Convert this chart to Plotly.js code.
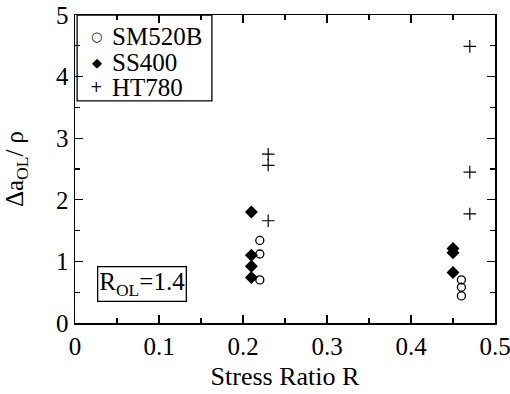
<!DOCTYPE html>
<html><head><meta charset="utf-8">
<script src="https://cdn.plot.ly/plotly-3.0.1.min.js"></script>
<style>html,body{margin:0;padding:0;background:#fff}#c{width:510px;height:394px}</style>
</head><body><div id="c"></div>
<script>
const seriesNames = ["SM520B", "SS400", "HT780"];
const legendGlyphs = ["○", "◆", "+"];
const sm520bR = [0.22, 0.22, 0.22, 0.46, 0.46, 0.46];
const sm520bY = [1.34, 1.12, 0.70, 0.70, 0.58, 0.44];
const ss400R = [0.21, 0.21, 0.21, 0.21, 0.45, 0.45, 0.45];
const ss400Y = [1.80, 1.10, 0.92, 0.74, 1.21, 1.14, 0.82];
const ht780R = [0.23, 0.23, 0.23, 0.47, 0.47, 0.47];
const ht780Y = [2.74, 2.56, 1.66, 4.49, 2.45, 1.77];

const font = "Liberation Serif";
const traces = [
  {x: sm520bR, y: sm520bY, name: seriesNames[0], mode: "markers", type: "scatter",
   marker: {symbol: "circle-open", size: 8, color: "#000", line: {width: 1.3, color: "#000"}}},
  {x: ss400R, y: ss400Y, name: seriesNames[1], mode: "markers", type: "scatter",
   marker: {symbol: "diamond", size: 10, color: "#000"}},
  {x: ht780R, y: ht780Y, name: seriesNames[2], mode: "markers", type: "scatter",
   marker: {symbol: "cross-thin-open", size: 9, color: "#000", line: {width: 1.2, color: "#000"}}}
];
const axisCommon = {
  showgrid: false, zeroline: false, showline: true, linecolor: "#000", linewidth: 1.5,
  mirror: "ticks", ticks: "inside", ticklen: 8, tickwidth: 1.3, tickcolor: "#000",
  ticklabeloverflow: "allow",
  tickfont: {family: font, size: 25, color: "#000"}
};
// legend drawn as a boxed block of real text (tight line spacing like the reference)
const legendY = [0.929, 0.847, 0.766];
const glyphSize = [13, 13, 15];
const annotations = [];
seriesNames.forEach((n, i) => {
  annotations.push({xref: "paper", yref: "paper", x: 0.052, y: legendY[i], xanchor: "center", yanchor: "middle",
    text: legendGlyphs[i], showarrow: false, font: {family: "DejaVu Sans", size: glyphSize[i], color: "#000"}});
  annotations.push({xref: "paper", yref: "paper", x: 0.083, y: legendY[i], xanchor: "left", yanchor: "middle",
    text: n, showarrow: false, font: {family: font, size: 25, color: "#000"}});
});
annotations.push({xref: "paper", yref: "paper", x: 0.160, y: 0.128, xanchor: "center", yanchor: "middle",
    text: "R<sub>OL</sub>=1.4", showarrow: false, bordercolor: "#000", borderwidth: 1.3, borderpad: 1,
    bgcolor: "#fff", font: {family: font, size: 25, color: "#000"}});
const layout = {
  width: 510, height: 394,
  margin: {l: 75, r: 15, t: 15, b: 71},
  paper_bgcolor: "#fff", plot_bgcolor: "#fff",
  font: {family: font, color: "#000"},
  showlegend: false,
  xaxis: Object.assign({}, axisCommon, {range: [0, 0.5], dtick: 0.1, tick0: 0,
    minor: {dtick: 0.05, ticklen: 5, tickwidth: 1.2, tickcolor: "#000", ticks: "inside"},
    title: {text: "Stress Ratio R", font: {family: font, size: 26, color: "#000"}, standoff: 8}}),
  yaxis: Object.assign({}, axisCommon, {range: [0, 5], dtick: 1, tick0: 0,
    minor: {dtick: 0.5, ticklen: 5, tickwidth: 1.2, tickcolor: "#000", ticks: "inside"},
    title: {text: "Δa<sub>OL</sub>/ ρ", font: {family: font, size: 25, color: "#000"}, standoff: 25}}),
  shapes: [{type: "rect", xref: "paper", yref: "paper", x0: 0.005, x1: 0.326, y0: 0.721, y1: 1,
    line: {color: "#000", width: 1.3}, fillcolor: "rgba(0,0,0,0)", layer: "above"}],
  annotations: annotations
};
Plotly.newPlot("c", traces, layout, {staticPlot: true});
</script></body></html>
